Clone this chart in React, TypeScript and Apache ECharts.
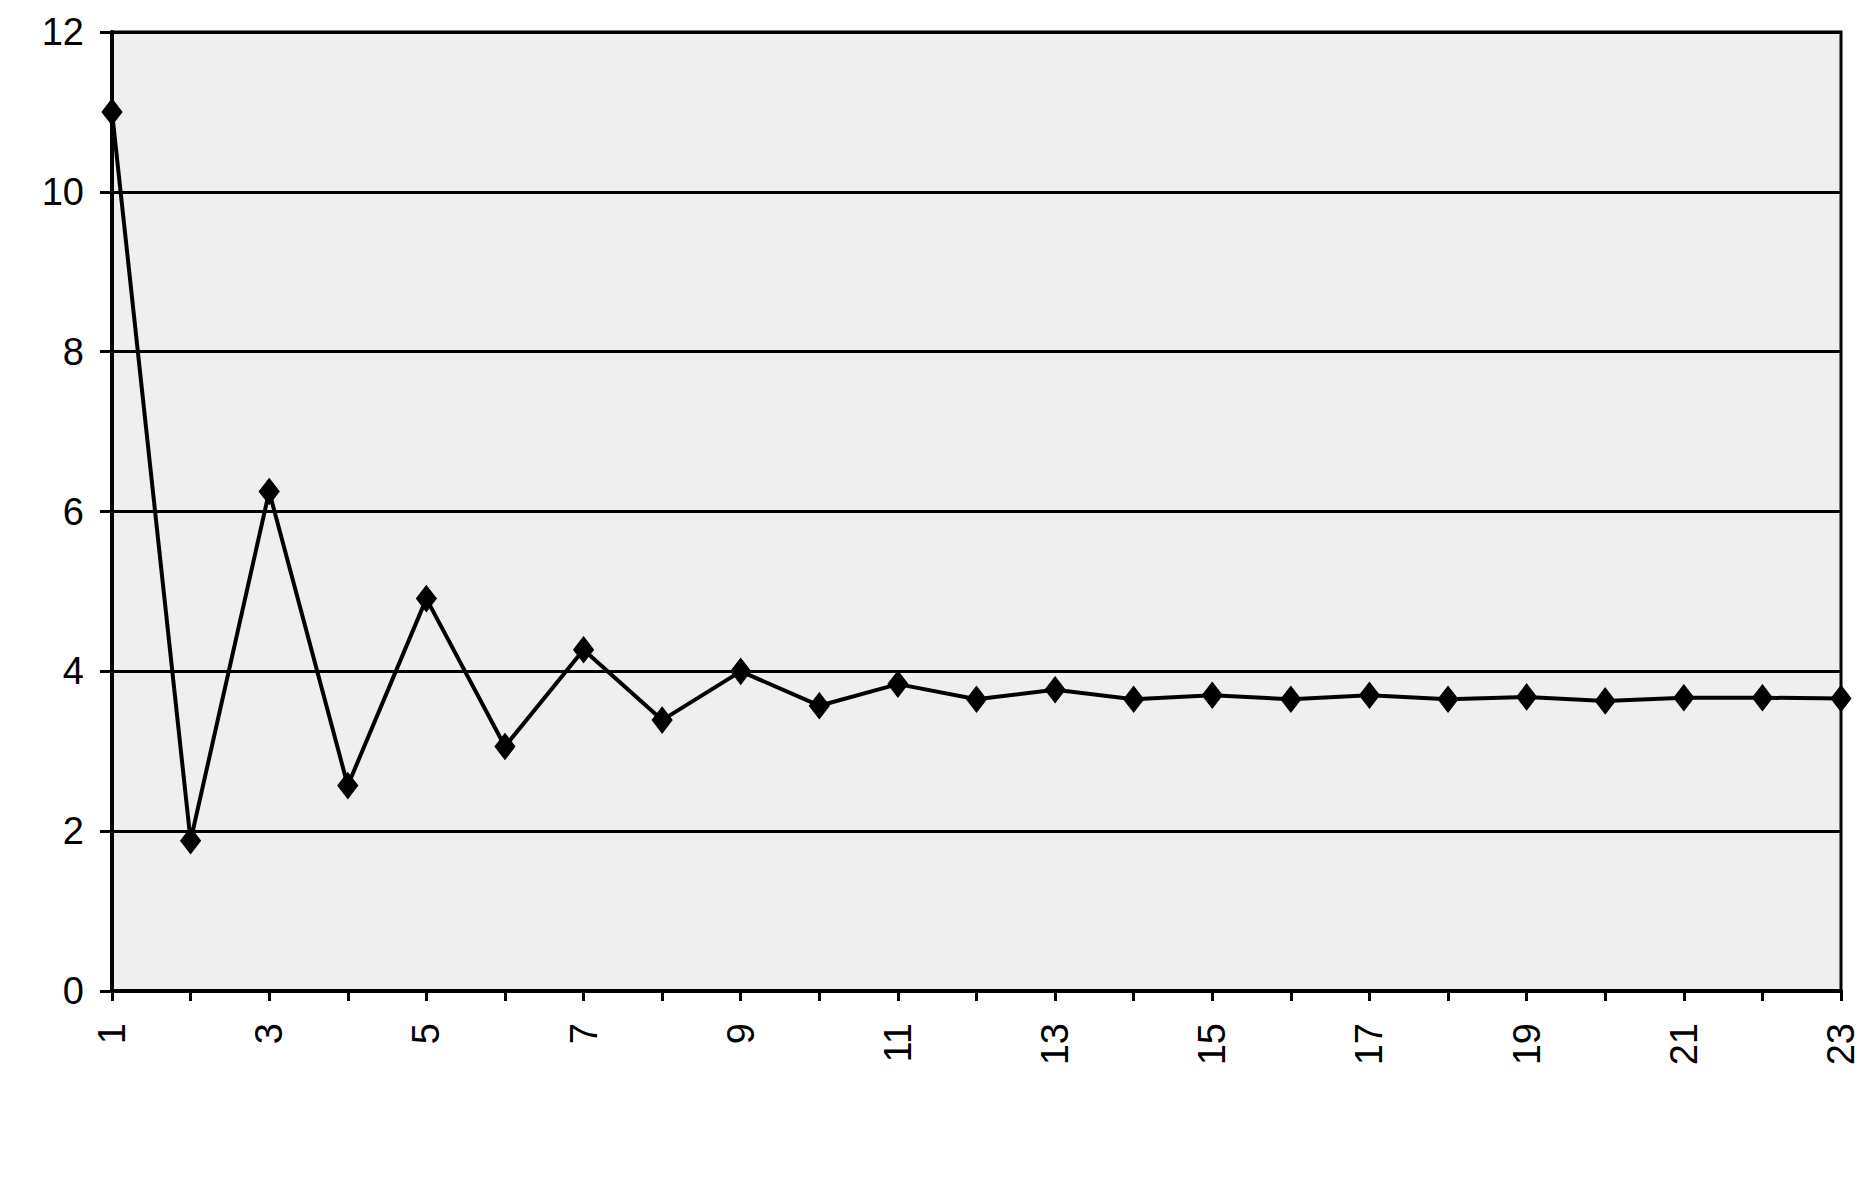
import React, { useEffect, useRef } from "react";
import * as echarts from "echarts";

const categories: string[] = [
  "1", "2", "3", "4", "5", "6", "7", "8", "9", "10", "11", "12",
  "13", "14", "15", "16", "17", "18", "19", "20", "21", "22", "23",
];

const values: number[] = [
  11.0, 1.88, 6.25, 2.57, 4.91, 3.06, 4.27, 3.39, 4.0, 3.57, 3.84, 3.65,
  3.77, 3.65, 3.7, 3.65, 3.7, 3.65, 3.68, 3.63, 3.67, 3.67, 3.66,
];

const yMin = 0;
const yMax = 12;
const yInterval = 2;

export default function App() {
  const ref = useRef<HTMLDivElement>(null);

  useEffect(() => {
    document.body.style.margin = "0";
    if (!ref.current) return;
    const chart = echarts.init(ref.current, undefined, { renderer: "svg" });
    const font = "Liberation Sans, Arial, sans-serif";
    chart.setOption({
      animation: false,
      backgroundColor: "#ffffff",
      grid: {
        left: 112,
        right: 31,
        top: 32,
        bottom: 207,
        show: true,
        backgroundColor: "#efefef",
        borderColor: "#000000",
        borderWidth: 3,
      },
      xAxis: {
        type: "category",
        data: categories,
        boundaryGap: false,
        axisLine: { show: true, lineStyle: { color: "#000", width: 4 } },
        axisTick: {
          show: true,
          inside: false,
          length: 10,
          interval: 0,
          alignWithLabel: true,
          lineStyle: { color: "#000", width: 3 },
        },
        axisLabel: {
          interval: 1,
          rotate: 90,
          margin: 32,
          color: "#000",
          fontSize: 38,
          fontFamily: font,
        },
        splitLine: { show: false },
      },
      yAxis: {
        type: "value",
        min: yMin,
        max: yMax,
        interval: yInterval,
        axisLine: { show: true, lineStyle: { color: "#000", width: 4 } },
        axisTick: {
          show: true,
          inside: false,
          length: 12,
          lineStyle: { color: "#000", width: 3 },
        },
        axisLabel: {
          margin: 28,
          color: "#000",
          fontSize: 38,
          fontFamily: font,
        },
        splitLine: { show: true, lineStyle: { color: "#000", width: 3 } },
      },
      series: [
        {
          type: "line",
          data: values,
          symbol: "diamond",
          symbolSize: [20, 26],
          showSymbol: true,
          lineStyle: { color: "#000", width: 4 },
          itemStyle: { color: "#000", borderColor: "#000" },
        },
      ],
    });
    return () => chart.dispose();
  }, []);

  return <div ref={ref} style={{ width: 1872, height: 1198 }} />;
}
